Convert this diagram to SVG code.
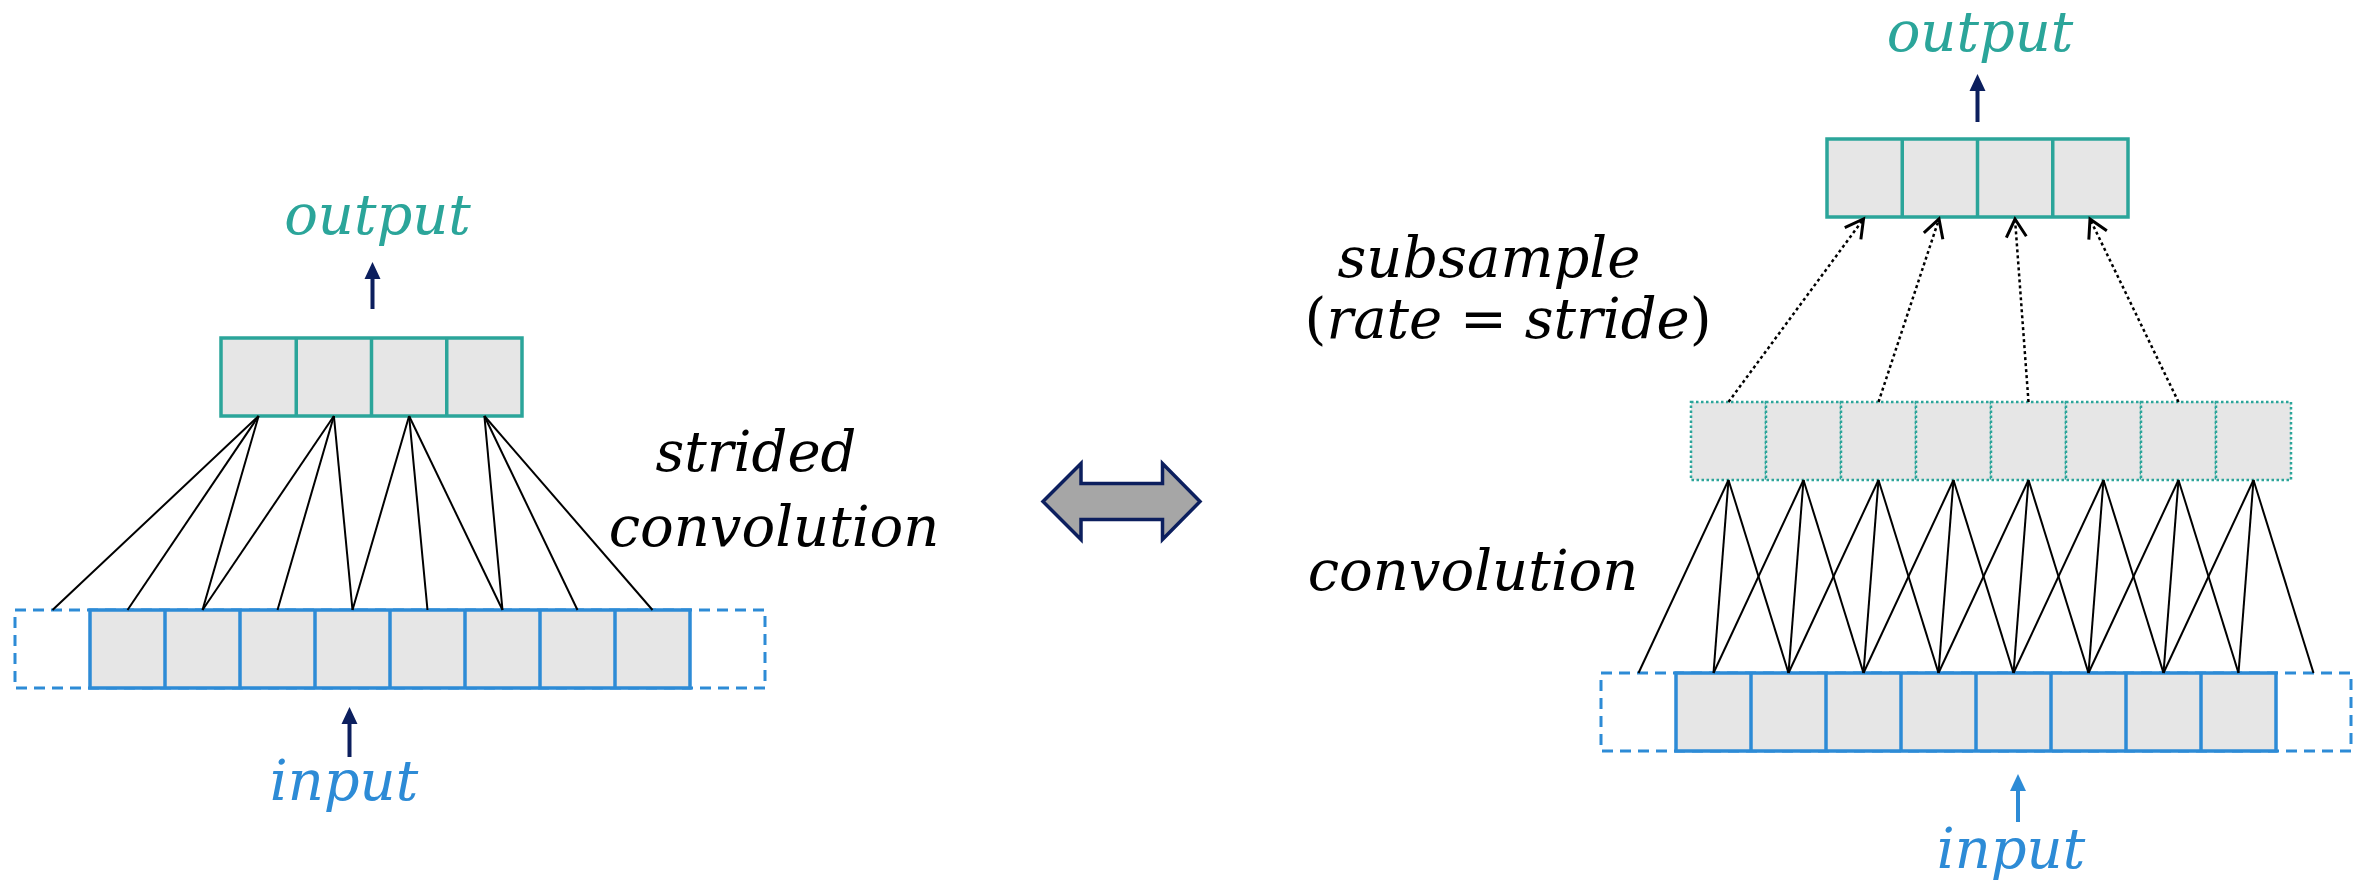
<svg xmlns="http://www.w3.org/2000/svg" width="2369" height="883" viewBox="0 0 2369 883">
<style>
.cell{fill:#E6E6E6;}
.out{fill:#E6E6E6;stroke:#2BA59A;stroke-width:3.5;}
.inp{fill:#E6E6E6;stroke:#2D8BD6;stroke-width:3.5;}
.pad{fill:none;stroke:#2D8BD6;stroke-width:3;stroke-dasharray:11 7;}
.mid{fill:#E6E6E6;stroke:#2BA59A;stroke-width:2.5;stroke-dasharray:2.5 2.5;}
.conn{stroke:#000;stroke-width:2;fill:none;}
.dot{stroke:#000;stroke-width:2.5;fill:none;stroke-dasharray:3 3;}
.t{font-family:"DejaVu Serif","Liberation Serif",serif;font-style:italic;font-size:56px;text-anchor:middle;}
.up{font-style:normal;}
.navy{stroke:#0C1F5E;stroke-width:4;}
</style>
<defs>
<marker id="chev" markerUnits="userSpaceOnUse" viewBox="-24 -14 28 28" refX="0" refY="0" markerWidth="28" markerHeight="28" orient="auto">
<path d="M-18,-10 L0,0 L-18,10" fill="none" stroke="#000" stroke-width="3"/>
</marker>
</defs>

<!-- LEFT: strided convolution -->
<g id="left-output">
<rect class="out" x="221" y="338" width="301" height="78"/>
<line x1="296.25" y1="338" x2="296.25" y2="416" stroke="#2BA59A" stroke-width="3.5"/>
<line x1="371.5" y1="338" x2="371.5" y2="416" stroke="#2BA59A" stroke-width="3.5"/>
<line x1="446.75" y1="338" x2="446.75" y2="416" stroke="#2BA59A" stroke-width="3.5"/>
</g>
<g id="left-input">
<rect class="pad" x="15" y="610" width="750" height="78"/>
<rect class="inp" x="90" y="610" width="600" height="78"/>
<g stroke="#2D8BD6" stroke-width="3.5">
<line x1="165" y1="610" x2="165" y2="688"/>
<line x1="240" y1="610" x2="240" y2="688"/>
<line x1="315" y1="610" x2="315" y2="688"/>
<line x1="390" y1="610" x2="390" y2="688"/>
<line x1="465" y1="610" x2="465" y2="688"/>
<line x1="540" y1="610" x2="540" y2="688"/>
<line x1="615" y1="610" x2="615" y2="688"/>
</g>
</g>
<g id="left-labels">
<text class="t" x="377.5" y="234" fill="#2BA59A">output</text>
<text class="t" x="344" y="800" fill="#2D8BD6">input</text>
<text class="t" x="756" y="471" fill="#000">strided</text>
<text class="t" x="774" y="546" fill="#000">convolution</text>
</g>

<!-- double arrow -->
<g id="double-arrow">
<polygon points="1043,501.5 1081,463.5 1081,483.5 1162.5,483.5 1162.5,463.5 1200,501.5 1162.5,539.5 1162.5,519.5 1081,519.5 1081,539.5" fill="#A6A6A6" stroke="#0C1F5E" stroke-width="3.5" stroke-linejoin="miter"/>
</g>

<!-- RIGHT: convolution + subsample -->
<g id="right-output">
<rect class="out" x="1827" y="139" width="301" height="78"/>
<line x1="1902.25" y1="139" x2="1902.25" y2="217" stroke="#2BA59A" stroke-width="3.5"/>
<line x1="1977.5" y1="139" x2="1977.5" y2="217" stroke="#2BA59A" stroke-width="3.5"/>
<line x1="2052.75" y1="139" x2="2052.75" y2="217" stroke="#2BA59A" stroke-width="3.5"/>
</g>
<g id="right-mid">
<rect class="mid" x="1691" y="402" width="75" height="78"/>
<rect class="mid" x="1766" y="402" width="75" height="78"/>
<rect class="mid" x="1841" y="402" width="75" height="78"/>
<rect class="mid" x="1916" y="402" width="75" height="78"/>
<rect class="mid" x="1991" y="402" width="75" height="78"/>
<rect class="mid" x="2066" y="402" width="75" height="78"/>
<rect class="mid" x="2141" y="402" width="75" height="78"/>
<rect class="mid" x="2216" y="402" width="75" height="78"/>
</g>
<g id="right-input">
<rect class="pad" x="1601" y="673" width="750" height="78"/>
<rect class="inp" x="1676" y="673" width="600" height="78"/>
<g stroke="#2D8BD6" stroke-width="3.5">
<line x1="1751" y1="673" x2="1751" y2="751"/>
<line x1="1826" y1="673" x2="1826" y2="751"/>
<line x1="1901" y1="673" x2="1901" y2="751"/>
<line x1="1976" y1="673" x2="1976" y2="751"/>
<line x1="2051" y1="673" x2="2051" y2="751"/>
<line x1="2126" y1="673" x2="2126" y2="751"/>
<line x1="2201" y1="673" x2="2201" y2="751"/>
</g>
</g>
<g id="right-labels">
<text class="t" x="1980" y="51" fill="#2BA59A">output</text>
<text class="t" x="2011" y="868" fill="#2D8BD6">input</text>
<text class="t" x="1489" y="277" fill="#000">subsample</text>
<text class="t" x="1508" y="338" fill="#000"><tspan class="up">(</tspan>rate <tspan class="up">=</tspan> stride<tspan class="up">)</tspan></text>
<text class="t" x="1473" y="590" fill="#000">convolution</text>
</g>

<g id="connectors">
<!-- left strided convolution lines -->
<g class="conn">
<line x1="258.6" y1="416" x2="52.5" y2="610"/>
<line x1="258.6" y1="416" x2="127.5" y2="610"/>
<line x1="258.6" y1="416" x2="202.5" y2="610"/>
<line x1="333.9" y1="416" x2="202.5" y2="610"/>
<line x1="333.9" y1="416" x2="277.5" y2="610"/>
<line x1="333.9" y1="416" x2="352.5" y2="610"/>
<line x1="409.1" y1="416" x2="352.5" y2="610"/>
<line x1="409.1" y1="416" x2="427.5" y2="610"/>
<line x1="409.1" y1="416" x2="502.5" y2="610"/>
<line x1="484.4" y1="416" x2="502.5" y2="610"/>
<line x1="484.4" y1="416" x2="577.5" y2="610"/>
<line x1="484.4" y1="416" x2="652.5" y2="610"/>
</g>
<!-- right convolution lines -->
<g class="conn">
<line x1="1728.5" y1="480" x2="1638.5" y2="673"/>
<line x1="1728.5" y1="480" x2="1713.5" y2="673"/>
<line x1="1728.5" y1="480" x2="1788.5" y2="673"/>
<line x1="1803.5" y1="480" x2="1713.5" y2="673"/>
<line x1="1803.5" y1="480" x2="1788.5" y2="673"/>
<line x1="1803.5" y1="480" x2="1863.5" y2="673"/>
<line x1="1878.5" y1="480" x2="1788.5" y2="673"/>
<line x1="1878.5" y1="480" x2="1863.5" y2="673"/>
<line x1="1878.5" y1="480" x2="1938.5" y2="673"/>
<line x1="1953.5" y1="480" x2="1863.5" y2="673"/>
<line x1="1953.5" y1="480" x2="1938.5" y2="673"/>
<line x1="1953.5" y1="480" x2="2013.5" y2="673"/>
<line x1="2028.5" y1="480" x2="1938.5" y2="673"/>
<line x1="2028.5" y1="480" x2="2013.5" y2="673"/>
<line x1="2028.5" y1="480" x2="2088.5" y2="673"/>
<line x1="2103.5" y1="480" x2="2013.5" y2="673"/>
<line x1="2103.5" y1="480" x2="2088.5" y2="673"/>
<line x1="2103.5" y1="480" x2="2163.5" y2="673"/>
<line x1="2178.5" y1="480" x2="2088.5" y2="673"/>
<line x1="2178.5" y1="480" x2="2163.5" y2="673"/>
<line x1="2178.5" y1="480" x2="2238.5" y2="673"/>
<line x1="2253.5" y1="480" x2="2163.5" y2="673"/>
<line x1="2253.5" y1="480" x2="2238.5" y2="673"/>
<line x1="2253.5" y1="480" x2="2313.5" y2="673"/>
</g>
<!-- subsample dotted arrows -->
<g class="dot">
<line x1="1728.5" y1="402" x2="1863.5" y2="219" marker-end="url(#chev)"/>
<line x1="1878.5" y1="402" x2="1939" y2="219" marker-end="url(#chev)"/>
<line x1="2028.5" y1="402" x2="2015" y2="219" marker-end="url(#chev)"/>
<line x1="2178.5" y1="402" x2="2090" y2="219" marker-end="url(#chev)"/>
</g>
<!-- input/output arrows -->
<g id="arrows">
<line class="navy" x1="372.5" y1="309" x2="372.5" y2="275"/>
<polygon points="372.5,262 364.5,279 380.5,279" fill="#0C1F5E"/>
<line class="navy" x1="349.5" y1="757" x2="349.5" y2="720"/>
<polygon points="349.5,707 341.5,724 357.5,724" fill="#0C1F5E"/>
<line class="navy" x1="1977.5" y1="122" x2="1977.5" y2="87"/>
<polygon points="1977.5,74 1969.5,91 1985.5,91" fill="#0C1F5E"/>
<line x1="2018" y1="822" x2="2018" y2="787" stroke="#2D8BD6" stroke-width="4"/>
<polygon points="2018,774 2010,791 2026,791" fill="#2D8BD6"/>
</g>
</g>
</svg>
